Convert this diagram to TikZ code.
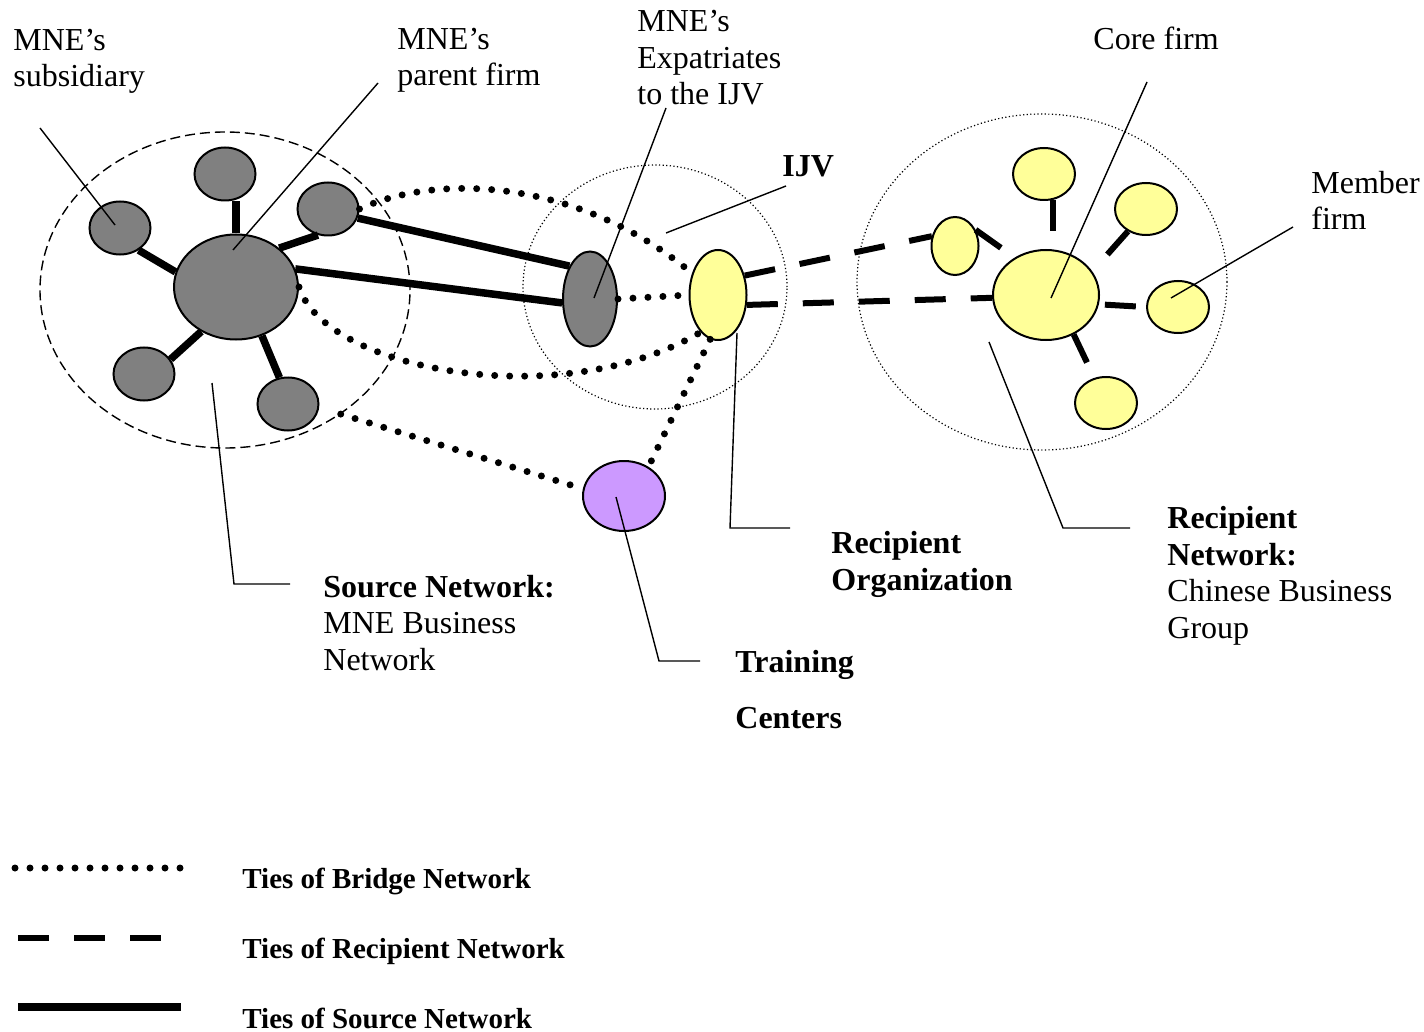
\documentclass[tikz,border=0pt]{standalone}
\usepackage{fontspec}
\setmainfont{Liberation Serif}
\usetikzlibrary{shapes.geometric}
\begin{document}
\begin{tikzpicture}[x=0.5pt, y=-0.5pt,
  firm/.style = {ellipse, draw = black, line width = 1pt, inner sep = 0pt},
  srcfirm/.style = {firm, fill = firmgray, minimum width = 30.5pt, minimum height = 26.5pt},
  recfirm/.style = {firm, fill = firmyellow, minimum width = 31pt, minimum height = 26pt},
  sourcetie/.style = {line width = 3.75pt},
  recipienttie/.style = {line width = 3pt, dash pattern = on 15.5pt off 12.5pt},
  bridgetie/.style = {line width = 3.5pt, line cap = round, dash pattern = on 0pt off 7.5pt},
  pointer/.style = {line width = 0.7pt},
  note/.style = {anchor = base west, inner sep = 0pt, align = left, font = \fontsize{16}{18.25}\selectfont},
  keytext/.style = {anchor = base west, inner sep = 0pt, font = \fontsize{14.5}{17}\selectfont\bfseries}]
\useasboundingbox (0,0) rectangle (1424,1032);
\definecolor{firmgray}{RGB}{128,128,128}
\definecolor{firmyellow}{RGB}{255,255,153}
\definecolor{firmpurple}{RGB}{204,153,255}

\node[ellipse, draw, line width = 0.7pt, dash pattern = on 5pt off 2.5pt, minimum width = 185pt, minimum height = 158pt] (srcnet) at (225,290) {};
\node[ellipse, draw, line width = 0.6pt, dash pattern = on 0.6pt off 1.2pt, minimum width = 132pt, minimum height = 122pt] (ijv) at (655,287) {};
\node[ellipse, draw, line width = 0.6pt, dash pattern = on 0.6pt off 1.2pt, minimum width = 185pt, minimum height = 168pt] (recnet) at (1042,282) {};

\node[firm, fill = firmgray, minimum width = 62pt, minimum height = 52.5pt] (parent) at (236,287) {};
\foreach \name/\x/\y in {subtop/225/174, subright/328/209, subleft/120/228, sublowleft/144/374, sublowright/288/404}
  \node[srcfirm] (\name) at (\x,\y) {};
\node[firm, fill = firmgray, minimum width = 27pt, minimum height = 47.5pt] (expat) at (590,299) {};
\node[firm, fill = firmyellow, minimum width = 28.5pt, minimum height = 45pt] (recorg) at (718,295) {};
\node[firm, fill = firmpurple, minimum width = 41pt, minimum height = 35pt] (train) at (624,496) {};
\node[firm, fill = firmyellow, minimum width = 53pt, minimum height = 45pt] (core) at (1046,295) {};
\node[firm, fill = firmyellow, minimum width = 23.5pt, minimum height = 29pt] (memleft) at (955,246) {};
\foreach \name/\x/\y in {memtop/1044/174, memupright/1146/209, memright/1178/307, membottom/1106/403}
  \node[recfirm] (\name) at (\x,\y) {};

\draw[sourcetie] (parent.north) -- (subtop.south -| parent.north);
\draw[sourcetie] (parent.42) -- (subright.249);
\draw[sourcetie] (parent.166) -- (subleft.-50);
\draw[sourcetie] (parent.232) -- (sublowleft.29);
\draw[sourcetie] (parent.298) -- (sublowright.108);
\draw[sourcetie] (subright.-17) -- (expat.122);
\draw[sourcetie] (parent.17) -- (expat.188);

\draw[recipienttie] (recorg.36) -- (memleft.157);
\draw[recipienttie] (recorg.-19) -- (core.183);
\draw[recipienttie] (memleft.38) -- (core.130);
\draw[recipienttie] (memtop.-70) -- (memtop.-70 |- core.north);
\draw[recipienttie] (memupright.231) -- (core.27);
\draw[recipienttie, dash phase = 25pt] (core.-10) -- (memright.west);
\draw[recipienttie] (core.-55) -- (membottom.115);

\draw[bridgetie] (subright.east) .. controls (440,172) and (580,180) .. (recorg.140);
\draw[bridgetie] (parent.east) .. controls (325,370) and (560,415) .. (recorg.245);
\draw[bridgetie] (expat.east) -- (recorg.west);
\draw[bridgetie] (recorg.260) -- (train.50);
\draw[bridgetie] (srcnet.-47) -- (train.170);

\coordinate (subsidiarylead) at (40,128);
\coordinate (parentlead) at (378,83);
\coordinate (expatlead) at (666,108);
\coordinate (ijvlead) at (786,186);
\coordinate (corelead) at (1147,82);
\coordinate (memberlead) at (1293,227);
\coordinate (sourcebend) at (234,584);
\coordinate (sourcelead) at (290,584);
\coordinate (recorgbend) at (730,528);
\coordinate (recorglead) at (790,528);
\coordinate (trainbend) at (659,661);
\coordinate (trainlead) at (700,661);
\coordinate (recnetbend) at (1063,528);
\coordinate (recnetlead) at (1130,528);

\draw[pointer] (subsidiarylead) -- ([shift={(-5,-3)}]subleft.center);
\draw[pointer] (parentlead) -- ([shift={(-3,-37)}]parent.center);
\draw[pointer] (expatlead) -- ([shift={(4,-1)}]expat.center);
\draw[pointer] (ijvlead) -- ([shift={(11,-54)}]ijv.center);
\draw[pointer] (corelead) -- ([shift={(5,3)}]core.center);
\draw[pointer] (memberlead) -- ([shift={(-7,-9)}]memright.center);
\draw[pointer] ([shift={(-13,93)}]srcnet.center) -- (sourcebend) -- (sourcelead);
\draw[pointer] ([shift={(19,38)}]recorg.center) -- (recorgbend) -- (recorglead);
\draw[pointer] ([shift={(-8,1)}]train.center) -- (trainbend) -- (trainlead);
\draw[pointer] ([shift={(-53,60)}]recnet.center) -- (recnetbend) -- (recnetlead);

\node[note] (subsidiarytext) at (13,87) {MNE’s\\subsidiary};
\node[note] (parenttext) at (397,86) {MNE’s\\parent firm};
\node[note] (expattext) at (637,105) {MNE’s\\Expatriates\\to the IJV};
\node[note] (coretext) at (1093,50) {Core firm};
\node[note] (ijvtext) at (782,177) {\textbf{IJV}};
\node[note] (membertext) at (1311,230) {Member\\firm};
\node[note] (recorgtext) at (831,590) {\textbf{Recipient}\\\textbf{Organization}};
\node[note] (sourcetext) at (323,670) {\textbf{Source Network:}\\MNE Business\\Network};
\node[note] (recnettext) at (1167,638) {\textbf{Recipient}\\\textbf{Network:}\\Chinese Business\\Group};
\node[note] (traintext) at (735,728) {\textbf{Training}\\[9.5pt]\textbf{Centers}};

\coordinate (bridgekeyA) at (15,868);
\coordinate (bridgekeyB) at (180.5,868);
\coordinate (recipientkeyA) at (18,938);
\coordinate (recipientkeyB) at (162,938);
\coordinate (sourcekeyA) at (18,1007);
\coordinate (sourcekeyB) at (181,1007);
\draw[bridgetie] (bridgekeyA) -- (bridgekeyB);
\draw[recipienttie] (recipientkeyA) -- (recipientkeyB);
\draw[sourcetie] (sourcekeyA) -- (sourcekeyB);
\node[keytext] (bridgekey) at (242,888) {Ties of Bridge Network};
\node[keytext] (recipientkey) at (242,958) {Ties of Recipient Network};
\node[keytext] (sourcekey) at (242,1028) {Ties of Source Network};
\end{tikzpicture}
\end{document}
